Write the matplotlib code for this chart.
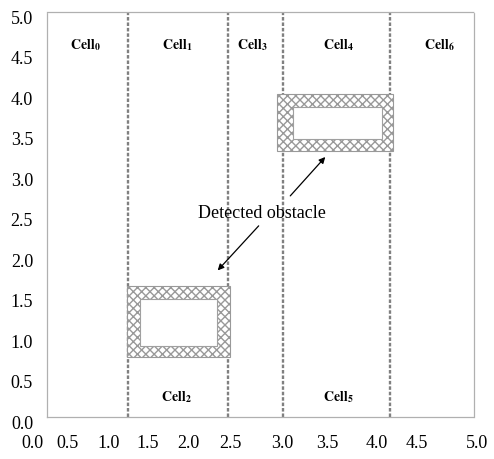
import matplotlib
matplotlib.use('Agg')
import matplotlib.pyplot as plt
import matplotlib.transforms as mtransforms
from matplotlib.patches import Rectangle

plt.rcParams['font.family'] = 'Liberation Serif'
plt.rcParams['mathtext.fontset'] = 'stix'

# cell boundaries (vertical dashed lines)
boundaries = [0.95, 2.12, 2.76, 4.02]

# cell labels
cell_names = ['0', '1', '3', '4', '6', '2', '5']
cell_x = [0.45, 1.53, 2.41, 3.41, 4.60, 1.52, 3.41]
cell_y = [4.60, 4.60, 4.60, 4.60, 4.60, 0.26, 0.26]

# detected obstacles: outer and inner rectangles (x0, x1, y0, y1)
obst_outer = [(0.94, 2.14, 0.74, 1.62), (2.70, 4.05, 3.28, 3.99)]
obst_inner = [(1.09, 1.99, 0.88, 1.46), (2.88, 3.93, 3.43, 3.83)]

# annotation
note_text = 'Detected obstacle'
note_xy = (2.52, 2.53)
arrow_tails = [(2.48, 2.36), (2.85, 2.73)]
arrow_heads = [(2.00, 1.81), (3.26, 3.21)]

tick_vals = [0.0, 0.5, 1.0, 1.5, 2.0, 2.5, 3.0, 3.5, 4.0, 4.5, 5.0]
tick_labels = ['%.1f' % v for v in tick_vals]
# the x labels in the original drift from their ticks (pixels)
x_label_shift = [-15, -22, -24, -27, -29, -30, -21, -18, -12, -14, 3]

fig = plt.figure(figsize=(4.94, 4.60), dpi=100)
ax = fig.add_axes([0.0951, 0.0913, 0.8640, 0.8804])
ax.set_xlim(0, 5)
ax.set_ylim(0, 5)

for sp in ax.spines.values():
    sp.set_color('#b0b0b0')
    sp.set_linewidth(0.9)
    sp.set_linestyle((0, (1, 1)))

for b in boundaries:
    ax.axvline(b, color='#808080', lw=1.7, ls=(0, (1.5, 0.8)), zorder=2)

for (x0, x1, y0, y1), (i0, i1, j0, j1) in zip(obst_outer, obst_inner):
    ax.add_patch(Rectangle((x0, y0), x1 - x0, y1 - y0, facecolor='white',
                           edgecolor='#999999', hatch='xxxx', lw=0.8, zorder=3))
    ax.add_patch(Rectangle((i0, j0), i1 - i0, j1 - j0, facecolor='white',
                           edgecolor='#a0a0a0', lw=0.8, zorder=4))

for name, x, y in zip(cell_names, cell_x, cell_y):
    ax.text(x, y, r'$\mathbf{Cell}_{\mathbf{%s}}$' % name, ha='center', va='center',
            fontsize=10, zorder=5)

ax.text(note_xy[0], note_xy[1], note_text, ha='center', va='center', fontsize=13,
        zorder=5)
for tail, head in zip(arrow_tails, arrow_heads):
    ax.annotate('', xy=head, xytext=tail,
                arrowprops=dict(arrowstyle='-|>', color='black', lw=0.9,
                                mutation_scale=9, shrinkA=0, shrinkB=0),
                zorder=6)

ax.set_xticks(tick_vals)
ax.set_xticklabels(tick_labels)
ax.set_yticks(tick_vals)
ax.set_yticklabels(tick_labels)
ax.tick_params(axis='both', length=0, labelsize=13)
ax.tick_params(axis='x', pad=12)
ax.tick_params(axis='y', pad=10)

for tick, dx in zip(ax.xaxis.get_major_ticks(), x_label_shift):
    off = mtransforms.ScaledTranslation(dx / 100.0, 0, fig.dpi_scale_trans)
    tick.label1.set_transform(tick.label1.get_transform() + off)
for tick in ax.yaxis.get_major_ticks():
    off = mtransforms.ScaledTranslation(0, -4 / 100.0, fig.dpi_scale_trans)
    tick.label1.set_transform(tick.label1.get_transform() + off)

fig.savefig('out.png', dpi=100)
